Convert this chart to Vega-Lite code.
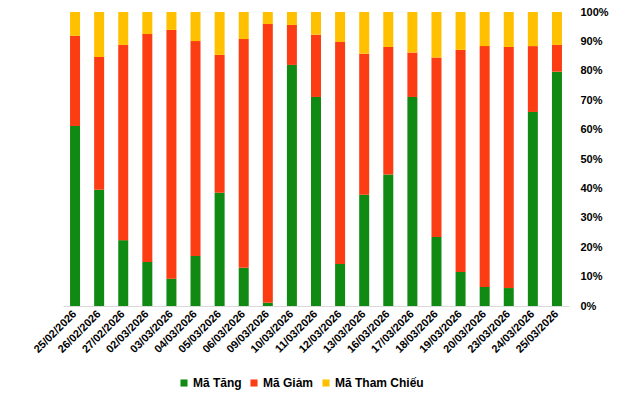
{
  "$schema": "https://vega.github.io/schema/vega-lite/v6.json",
  "width": 506,
  "height": 294,
  "autosize": "none",
  "padding": {"left": 63, "top": 12, "right": 71, "bottom": 87},
  "background": "white",
  "config": {"view": {"stroke": null}, "font": "Liberation Sans"},
  "data": {"values": [
    {"d": "25/02/2026", "o": 1, "t": 61.2, "g": 30.7, "c": 8.1},
    {"d": "26/02/2026", "o": 2, "t": 39.5, "g": 45.2, "c": 15.3},
    {"d": "27/02/2026", "o": 3, "t": 22.4, "g": 66.4, "c": 11.2},
    {"d": "02/03/2026", "o": 4, "t": 15.0, "g": 77.5, "c": 7.5},
    {"d": "03/03/2026", "o": 5, "t": 9.3, "g": 84.6, "c": 6.1},
    {"d": "04/03/2026", "o": 6, "t": 17.0, "g": 73.1, "c": 9.9},
    {"d": "05/03/2026", "o": 7, "t": 38.5, "g": 46.9, "c": 14.6},
    {"d": "06/03/2026", "o": 8, "t": 13.0, "g": 77.8, "c": 9.2},
    {"d": "09/03/2026", "o": 9, "t": 1.1, "g": 94.8, "c": 4.1},
    {"d": "10/03/2026", "o": 10, "t": 82.0, "g": 13.6, "c": 4.4},
    {"d": "11/03/2026", "o": 11, "t": 71.1, "g": 21.2, "c": 7.7},
    {"d": "12/03/2026", "o": 12, "t": 14.3, "g": 75.5, "c": 10.2},
    {"d": "13/03/2026", "o": 13, "t": 37.8, "g": 48.0, "c": 14.2},
    {"d": "16/03/2026", "o": 14, "t": 44.7, "g": 43.4, "c": 11.9},
    {"d": "17/03/2026", "o": 15, "t": 71.1, "g": 15.1, "c": 13.8},
    {"d": "18/03/2026", "o": 16, "t": 23.5, "g": 61.0, "c": 15.5},
    {"d": "19/03/2026", "o": 17, "t": 11.6, "g": 75.5, "c": 12.9},
    {"d": "20/03/2026", "o": 18, "t": 6.5, "g": 81.9, "c": 11.6},
    {"d": "23/03/2026", "o": 19, "t": 6.1, "g": 82.0, "c": 11.9},
    {"d": "24/03/2026", "o": 20, "t": 66.0, "g": 22.4, "c": 11.6},
    {"d": "25/03/2026", "o": 21, "t": 79.7, "g": 9.1, "c": 11.2}
  ]},
  "transform": [
    {"fold": ["t", "g", "c"], "as": ["k", "v"]},
    {"lookup": "k", "from": {"data": {"values": [
      {"k": "t", "name": "Mã Tăng", "so": 1},
      {"k": "g", "name": "Mã Giảm", "so": 2},
      {"k": "c", "name": "Mã Tham Chiếu", "so": 3}
    ]}, "key": "k", "fields": ["name", "so"]}}
  ],
  "mark": {"type": "bar", "width": 10},
  "encoding": {
    "x": {
      "field": "d", "type": "nominal", "sort": {"field": "o"}, "title": null,
      "scale": {"paddingInner": 0.58, "paddingOuter": 0.29},
      "axis": {"labelAngle": -45, "labelAlign": "right", "labelBaseline": "middle", "ticks": false,
        "domainColor": "#d9d9d9", "labelFont": "Liberation Sans", "labelFontWeight": "bold",
        "labelFontSize": 11, "labelColor": "#000000", "labelPadding": 6, "labelOverlap": false}
    },
    "y": {
      "field": "v", "type": "quantitative", "stack": "normalize", "title": null,
      "scale": {"domain": [0, 1]},
      "axis": {"orient": "right", "format": ".0%", "values": [0,0.1,0.2,0.3,0.4,0.5,0.6,0.7,0.8,0.9,1],
        "grid": false, "domain": false, "ticks": false, "labelPadding": 11, "labelOverlap": false,
        "labelFont": "Liberation Sans", "labelFontWeight": "bold", "labelFontSize": 11, "labelColor": "#000000"}
    },
    "color": {
      "field": "name", "type": "nominal", "title": null,
      "scale": {"domain": ["Mã Tăng", "Mã Giảm", "Mã Tham Chiếu"], "range": ["#108a12", "#fc3c12", "#ffc000"]},
      "legend": {"orient": "none", "legendX": 115, "legendY": 365, "direction": "horizontal",
        "symbolType": "square", "symbolSize": 50, "symbolStrokeWidth": 0, "columnPadding": 6,
        "labelFont": "Liberation Sans", "labelFontWeight": "bold", "labelFontSize": 12, "labelColor": "#000000", "labelOffset": 3}
    },
    "order": {"field": "so", "type": "quantitative"}
  }
}
